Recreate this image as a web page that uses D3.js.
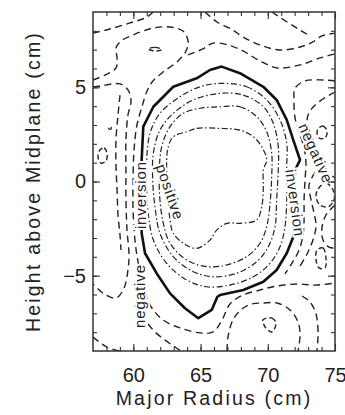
<!DOCTYPE html>
<html>
<head>
<meta charset="UTF-8">
<style>
  body { margin: 0; background: #fff; }
  text { font-family: "Liberation Sans", Arial, sans-serif; fill: #222; }
</style>
</head>
<body>
<div id="chart"></div>
<script src="https://d3js.org/d3.v7.min.js"></script>
<script>
// Contour traces, points are [R (cm), Z (cm)]

// zero level ("inversion"), closed
const zeroContour = [[60.62,1.14],[60.74,2.91],[61.49,3.97],[62.97,5.03],[64.71,5.48],[65.70,5.92],
  [66.57,6.10],[67.93,5.75],[69.67,5.03],[70.66,4.33],[71.41,3.27],[71.90,2.20],[72.40,1.14],
  [72.03,0.61],[71.90,-0.98],[71.90,-2.93],[71.41,-3.81],[70.66,-4.70],[69.67,-5.32],[68.18,-5.76],
  [66.45,-6.03],[66.25,-6.12],[65.83,-6.82],[64.83,-7.26],[63.84,-6.73],[62.73,-5.94],[61.74,-4.88],
  [60.87,-3.81],[60.62,-2.75],[60.57,-0.72]];

// positive levels, closed
const posRing1 = [[66.45,5.21],[68.43,5.03],[69.92,4.33],[70.91,3.27],[71.41,2.03],[71.41,0.79],
  [71.41,-0.98],[71.28,-2.40],[70.91,-3.46],[70.17,-4.34],[68.92,-5.06],[67.19,-5.50],[65.46,-5.59],
  [63.97,-5.23],[62.48,-4.34],[61.49,-3.11],[61.11,-1.69],[60.99,-0.28],[60.99,1.14],[61.24,2.56],
  [61.98,3.62],[63.47,4.50],[64.96,5.03]];
const posRing2 = [[66.45,4.68],[68.18,4.59],[69.67,3.97],[70.41,3.09],[70.78,1.85],[70.78,0.61],
  [70.66,-0.98],[70.54,-2.40],[70.04,-3.46],[69.18,-4.26],[67.69,-4.87],[65.95,-5.06],[64.46,-4.79],
  [62.97,-3.99],[61.98,-2.75],[61.61,-1.34],[61.44,0.08],[61.49,1.50],[61.98,2.73],[62.97,3.62],
  [64.46,4.33]];
const posRing3 = [[66.45,3.97],[67.93,3.97],[69.18,3.44],[69.92,2.64],[70.29,1.50],[70.29,0.25],
  [70.17,-1.16],[69.92,-2.40],[69.42,-3.28],[68.43,-3.99],[66.95,-4.43],[65.46,-4.52],[63.97,-4.17],
  [62.73,-3.28],[62.23,-2.22],[61.98,-0.98],[61.93,0.43],[62.11,1.85],[62.73,2.91],[63.72,3.62],
  [64.96,3.89]];
const posRing4 = [[63.97,2.64],[64.71,2.82],[66.45,2.82],[67.93,2.73],[68.92,2.38],[69.55,1.85],
  [69.92,1.14],[69.67,0.61],[69.67,-0.28],[69.55,-1.34],[69.18,-2.04],[67.93,-2.22],[66.95,-2.22],
  [66.20,-2.58],[65.70,-3.11],[64.71,-3.55],[63.72,-3.28],[62.97,-2.75],[62.73,-2.04],[62.58,-0.72],
  [62.48,1.14],[62.60,1.85],[62.97,2.38]];

// negative levels, open traces (they run to the frame)
const negTopLeft = [[57.0,7.88],[58.26,8.10],[59.75,8.42],[61.02,8.73],[61.46,9.0]];
const negInner = [[57.0,5.39],[57.89,5.65],[58.71,6.03],[58.79,6.56],[58.71,7.09],[59.08,7.46],
  [59.98,7.78],[61.46,8.15],[62.73,8.20],[63.69,7.99],[64.07,7.46],[63.92,6.93],[63.25,6.35],
  [62.21,5.81],[61.46,5.34],[61.02,4.81],[60.64,3.96],[60.27,3.00],[60.05,1.67],[59.98,0.08],
  [59.98,-1.51],[60.12,-3.11],[60.35,-4.27],[60.72,-5.50],[61.24,-6.56],[62.21,-7.35],[63.47,-7.77],
  [64.96,-8.04],[65.93,-7.99],[66.60,-7.35],[67.19,-6.50],[68.16,-6.03],[69.42,-5.76],[70.69,-5.55],
  [72.17,-5.44],[73.51,-5.50],[75.0,-5.39]];
const negTop = [[64.07,6.72],[65.18,7.04],[65.93,7.35],[67.04,7.25],[68.16,6.93],[69.42,6.40],
  [70.69,6.03],[72.40,6.19],[73.88,6.56],[75.0,6.77]];
const negTopArc = [[65.33,9.0],[66.22,8.47],[67.41,8.04],[68.16,7.67],[69.42,7.25],[70.91,6.98],
  [72.40,7.14],[73.36,7.41],[74.03,7.73],[75.0,7.88]];
const negTopRight = [[70.31,9.0],[71.43,8.47],[72.40,8.04],[73.14,7.73]];
const negRight1 = [[75.0,5.34],[74.11,5.39],[72.77,5.34],[72.03,4.96],[71.95,4.33],[72.03,3.37],
  [72.33,2.63],[72.70,1.78],[72.84,0.98],[72.77,0.08],[72.70,-0.98],[72.70,-2.04],[72.62,-2.84],
  [72.33,-3.64],[71.80,-4.33],[71.28,-4.91]];
const negRight2 = [[75.0,4.75],[73.88,4.27],[73.14,3.74],[72.92,3.21],[73.36,2.20],[73.88,1.30],
  [74.48,0.50],[75.0,0.19]];
const negRight3 = [[73.51,0.50],[73.07,-0.19],[73.22,-0.98],[73.44,-1.67],[73.59,-2.36],[73.36,-3.11],
  [72.92,-3.85],[72.40,-4.49]];
const negRight4 = [[75.0,-1.25],[74.33,-1.78],[74.03,-2.47],[74.11,-3.11],[74.55,-3.48],[75.0,-3.53]];
const negLeft2 = [[57.0,5.02],[57.52,5.07],[59.01,5.18],[59.60,4.86],[59.83,4.27],[59.60,3.53],
  [59.45,2.20],[59.45,0.61],[59.45,-0.98],[59.53,-2.58],[59.68,-3.90],[59.60,-4.70],[59.31,-5.66],
  [58.71,-6.19],[57.82,-5.97],[57.0,-5.44]];
const negLeft3 = [[59.01,4.59],[58.86,3.53],[58.71,2.20],[58.71,0.88],[58.79,-0.45],[58.86,-1.78],
  [59.01,-2.84],[59.08,-3.64]];
const negBottomLeft = [[57.0,-8.26],[58.04,-8.79],[59.01,-9.0]];
const negBottom1 = [[60.12,-6.56],[60.87,-7.35],[61.61,-7.99],[62.36,-8.42],[63.10,-8.79],[63.55,-9.0]];
const negBottom2 = [[66.97,-9.0],[67.04,-8.26],[67.41,-7.35],[68.08,-6.77],[68.83,-6.50],[69.64,-6.45],
  [70.69,-6.45],[71.65,-6.82],[72.25,-7.46],[72.40,-8.15],[72.25,-9.0]];
const negBottom3 = [[72.55,-6.08],[73.14,-6.40],[73.59,-7.04],[73.74,-7.99],[73.66,-9.0]];

// small closed negative islands
const islandTop = [[61.09,7.04],[61.61,7.12],[62.13,7.01],[61.61,6.93]];
const islandDot = [[58.19,2.89],[58.34,2.89],[58.34,2.79],[58.19,2.79]];
const islandLeft = [[57.52,1.67],[57.82,1.78],[58.04,1.51],[57.97,1.09],[57.60,0.98],[57.37,1.30]];
const islandRight = [[73.74,-0.40],[74.33,-0.08],[74.85,-0.45],[74.93,-0.98],[74.48,-1.35],[73.88,-1.25],[73.59,-0.82]];
const islandRightUp = [[73.74,2.79],[74.11,2.95],[74.41,2.68],[74.26,2.31],[73.81,2.31],[73.66,2.57]];
const islandRightLow = [[73.66,-3.64],[74.11,-3.53],[74.33,-4.06],[74.26,-4.59],[73.81,-4.59],[73.59,-4.17]];
const islandBottom = [[69.64,-7.35],[70.31,-7.25],[70.61,-7.51],[70.31,-7.99],[69.86,-7.78]];

// contour labels
const labelText = ["inversion", "positive", "inversion", "negative", "negative"];
const labelR = [60.57, 62.73, 72.03, 73.57, 60.50];
const labelZ = [-0.72, -0.56, -1.14, 1.50, -6.08];
const labelAngle = [-90, 71, 82, 66, -90];

// axes
const xDomain = [57, 75];
const yDomain = [-9, 9];
const xTicks = [60, 65, 70, 75];
const yTicks = [-5, 0, 5];

const margin = { top: 12, left: 93 },
    width = 242,
    height = 339;

const svg = d3.select("#chart")
    .append("svg")
    .attr("width", 345)
    .attr("height", 415);

const g = svg.append("g")
    .attr("transform", `translate(${margin.left}, ${margin.top})`);

const x = d3.scaleLinear().domain(xDomain).range([0, width]);
const y = d3.scaleLinear().domain(yDomain).range([height, 0]);

g.append("clipPath").attr("id", "frame")
    .append("rect").attr("width", width).attr("height", height);

const plot = g.append("g").attr("clip-path", "url(#frame)");

const smoothOpen = d3.line().x(d => x(d[0])).y(d => y(d[1])).curve(d3.curveCatmullRom.alpha(0.5));
const smoothClosed = d3.line().x(d => x(d[0])).y(d => y(d[1])).curve(d3.curveCatmullRomClosed.alpha(0.5));
const straightClosed = d3.line().x(d => x(d[0])).y(d => y(d[1])).curve(d3.curveLinearClosed);

// negative: dashed
const negOpen = [negTopLeft, negInner, negTop, negTopArc, negTopRight, negRight1, negRight2, negRight3,
  negRight4, negLeft2, negLeft3, negBottomLeft, negBottom1, negBottom2, negBottom3];
const negClosed = [islandTop, islandDot, islandLeft, islandRight, islandRightUp, islandRightLow, islandBottom];

plot.selectAll(".neg-open")
    .data(negOpen)
    .enter().append("path")
    .attr("d", smoothOpen)
    .attr("fill", "none")
    .attr("stroke", "#222")
    .attr("stroke-width", 1.4)
    .attr("stroke-dasharray", "7,4.5");

plot.selectAll(".neg-closed")
    .data(negClosed)
    .enter().append("path")
    .attr("d", smoothClosed)
    .attr("fill", "none")
    .attr("stroke", "#222")
    .attr("stroke-width", 1.4)
    .attr("stroke-dasharray", "5,3");

// positive: dash-dot
plot.selectAll(".pos")
    .data([posRing1, posRing2, posRing3, posRing4])
    .enter().append("path")
    .attr("d", smoothClosed)
    .attr("fill", "none")
    .attr("stroke", "#222")
    .attr("stroke-width", 1.2)
    .attr("stroke-dasharray", "6,2.5,1.5,2.5");

// zero: thick solid
plot.append("path")
    .datum(zeroContour)
    .attr("d", straightClosed)
    .attr("fill", "none")
    .attr("stroke", "#111")
    .attr("stroke-width", 2.6)
    .attr("stroke-linejoin", "round");

// labels sit on the lines, white halo breaks the line under them
plot.selectAll(".clab")
    .data(labelText)
    .enter().append("text")
    .attr("transform", (d, i) => `translate(${x(labelR[i])},${y(labelZ[i])}) rotate(${labelAngle[i]})`)
    .attr("text-anchor", "middle")
    .attr("dy", "0.35em")
    .style("font-size", "15px")
    .style("letter-spacing", "0.9px")
    .style("paint-order", "stroke")
    .style("stroke", "#fff")
    .style("stroke-width", 4)
    .text(d => d);

// ticks on all four sides, pointing in
function ticksOn(axis, vals, size) {
    return axis.tickValues(vals).tickSize(-size).tickFormat("");
}
const xMinor = d3.range(58, 75), yMinor = d3.range(-8, 9);

g.append("g").attr("transform", `translate(0,${height})`).call(ticksOn(d3.axisBottom(x), xMinor, 4));
g.append("g").call(ticksOn(d3.axisTop(x), xMinor, 4));
g.append("g").call(ticksOn(d3.axisLeft(y), yMinor, 4));
g.append("g").attr("transform", `translate(${width},0)`).call(ticksOn(d3.axisRight(y), yMinor, 4));
g.append("g").call(ticksOn(d3.axisTop(x), xTicks, 7));
g.append("g").attr("transform", `translate(${width},0)`).call(ticksOn(d3.axisRight(y), yTicks, 7));

g.append("g")
    .attr("transform", `translate(0,${height})`)
    .call(d3.axisBottom(x).tickValues(xTicks).tickSize(-7).tickPadding(17))
    .style("font-size", "20px");

g.append("g")
    .call(d3.axisLeft(y).tickValues(yTicks).tickSize(-7).tickPadding(7))
    .style("font-size", "20px");

g.selectAll(".domain").remove();
g.selectAll(".tick line").attr("stroke", "#333").attr("stroke-width", 1.1);
g.selectAll(".tick text").attr("fill", "#222").style("font-family", "'Liberation Sans', Arial, sans-serif");

g.append("rect")
    .attr("width", width)
    .attr("height", height)
    .attr("fill", "none")
    .attr("stroke", "#333")
    .attr("stroke-width", 1.5);

// axis titles
g.append("text")
    .attr("x", width / 2)
    .attr("y", height + 54)
    .attr("text-anchor", "middle")
    .style("font-size", "19.5px")
    .style("letter-spacing", "2.2px")
    .text("Major Radius (cm)");

g.append("text")
    .attr("transform", `translate(${-60},${height / 2}) rotate(-90)`)
    .attr("text-anchor", "middle")
    .attr("dy", "0.35em")
    .style("font-size", "19.5px")
    .style("letter-spacing", "2.2px")
    .text("Height above Midplane (cm)");
</script>
</body>
</html>
